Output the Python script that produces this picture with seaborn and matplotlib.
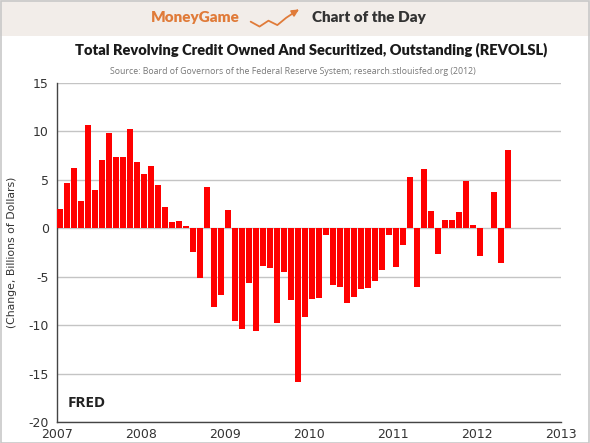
import numpy as np
import pandas as pd
import matplotlib.pyplot as plt
import seaborn as sns
from matplotlib.patches import Rectangle

# Monthly change in revolving credit, Jan 2007 - May 2012 (billions of dollars)
vals_2007 = [2.0, 4.7, 6.2, 2.8, 10.7, 4.0, 7.0, 9.8, 7.4, 7.4, 10.2, 6.8]
vals_2008 = [5.6, 6.4, 4.5, 2.2, 0.6, 0.8, 0.2, -2.4, -5.1, 4.3, -8.1, -6.9]
vals_2009 = [1.9, -9.6, -10.4, -5.7, -10.6, -3.9, -4.1, -9.8, -4.5, -7.4, -15.9, -9.2]
vals_2010 = [-7.3, -7.2, -0.7, -5.9, -6.1, -7.7, -7.1, -6.3, -6.2, -5.4, -4.3, -0.7]
vals_2011 = [-4.0, -1.7, 5.3, -6.1, 6.1, 1.8, -2.7, 0.9, 0.9, 1.7, 4.9, 0.3]
vals_2012 = [-2.9, 0.05, 3.7, -3.6, 8.1]
year_ticks = [2007, 2008, 2009, 2010, 2011, 2012, 2013]
y_ticks = [-20, -15, -10, -5, 0, 5, 10, 15]

values = vals_2007 + vals_2008 + vals_2009 + vals_2010 + vals_2011 + vals_2012
months = pd.date_range("2007-01-01", periods=len(values), freq="MS")
# bar sits just right of the month start
xpos = months.year + (months.month - 1 + 0.4) / 12
df = pd.DataFrame({"x": xpos, "change": values})

sns.set_style("white")
plt.rcParams['font.family'] = ['DejaVu Sans']

fig = plt.figure(figsize=(5.9, 4.43), dpi=100)
fig.patch.set_facecolor("white")

# header band
fig.patches.append(Rectangle((0, 1 - 36 / 443), 1, 36 / 443, transform=fig.transFigure,
                             facecolor="#f2ede9", edgecolor="none", zorder=-1))
fig.patches.append(Rectangle((0.001, 0.001), 0.997, 0.997, transform=fig.transFigure,
                             facecolor="none", edgecolor="#c8c8c8", lw=1.2, zorder=5))
fig.text(240 / 590, 1 - 18 / 443, "MoneyGame", ha="right", va="center", fontsize=11,
         fontweight="heavy", color="#e07b39", family="Lato")
fig.text(312 / 590, 1 - 18 / 443, "Chart of the Day", ha="left", va="center", fontsize=11,
         fontweight="heavy", color="#333333", family="Lato")
# little zigzag arrow icon
icon = fig.add_axes([248 / 590, 1 - 29 / 443, 56 / 590, 22 / 443])
icon.plot([0, 1, 2, 3, 4, 5.0], [1, 0, 1.2, 0.3, 1.8, 3.0], color="#e07b39", lw=1.3)
icon.annotate("", xy=(5.7, 3.8), xytext=(4.9, 2.9),
              arrowprops=dict(arrowstyle="-|>", color="#e07b39", lw=1.3))
icon.set_xlim(-0.3, 6)
icon.set_ylim(-0.5, 4)
icon.axis("off")

fig.text(311 / 590, 1 - 50 / 443, "Total Revolving Credit Owned And Securitized, Outstanding (REVOLSL)",
         ha="center", va="center", fontsize=10.5, fontweight="heavy", color="#1a1a1a",
         family="Lato")
fig.text(293 / 590, 1 - 71 / 443,
         "Source: Board of Governors of the Federal Reserve System; research.stlouisfed.org (2012)",
         ha="center", va="center", fontsize=6.3, color="#777777", family="Open Sans")

ax = fig.add_axes([57 / 590, 21 / 443, 504 / 590, 339 / 443])
sns.barplot(data=df, x="x", y="change", native_scale=True, color="#ff0000",
            saturation=1, width=0.78, linewidth=0, ax=ax, zorder=3)

ax.set_xlim(2007, 2013)
ax.set_ylim(-20, 15)
ax.set_xticks(year_ticks)
ax.set_xticklabels([str(y) for y in year_ticks])
ax.set_yticks(y_ticks)
ax.set_yticklabels([str(v) for v in y_ticks])
ax.grid(axis="y", color="#c4c4c4", lw=1, zorder=0)
ax.grid(axis="x", visible=False)
ax.set_axisbelow(True)
for s in ["top", "right"]:
    ax.spines[s].set_visible(False)
for s in ["left", "bottom"]:
    ax.spines[s].set_color("#444444")
    ax.spines[s].set_linewidth(1)
ax.tick_params(axis="both", direction="in", length=5, width=1, color="#444444",
               labelsize=9, labelcolor="#333333")
ax.tick_params(axis="x", pad=4)
ax.tick_params(axis="y", pad=6)
ax.set_xlabel("")
ax.set_ylabel("(Change, Billions of Dollars)", fontsize=7.8, color="#333333", labelpad=8)

ax.text(0.022, 0.055, "FRED", transform=ax.transAxes, fontsize=11, fontweight="bold",
        color="#222222", family="Open Sans", va="center")

fig.savefig("out.png", dpi=100)
